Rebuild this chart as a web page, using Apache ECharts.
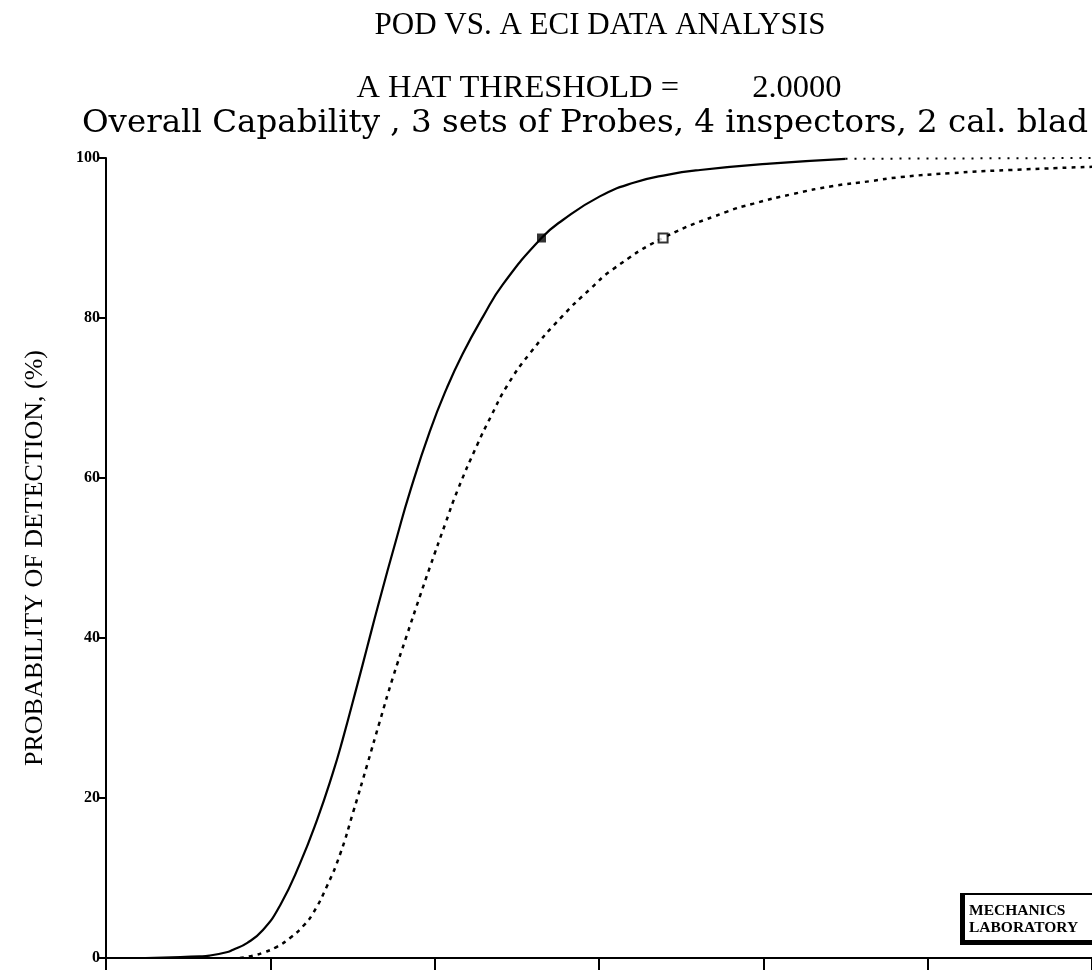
<!DOCTYPE html>
<html>
<head>
<meta charset="utf-8">
<script src="https://cdn.jsdelivr.net/npm/echarts@6/dist/echarts.min.js"></script>
<style>html,body{margin:0;padding:0;background:#fff}#c{width:1092px;height:970px}</style>
</head>
<body>
<div id="c"></div>
<script>
// POD fit curve (solid): [crack size, POD %]
const podFit = [
  [0.4,0],[2.4,0],[5.7,0.2],[6.3,0.3],[7.4,0.75],[7.7,1.0],[8.6,1.9],[9.55,3.5],
  [10.6,6.6],[11.8,11.8],[12.85,17.3],[13.8,23.1],[14.4,27.3],[15.3,34.2],
  [15.9,38.9],[16.55,44.0],[17.7,52.6],[18.5,58.3],[19.7,65.8],[20.75,71.3],
  [21.7,75.5],[22.95,80.2],[24.15,84.2],[26.5,90],[27.8,92.25],[30.05,95.2],
  [32.1,96.9],[34.15,97.9],[36.15,98.5],[40.4,99.3],[45,99.9]
];
// 95% confidence bound (dashed)
const podBound = [
  [8.15,0],[8.95,0.3],[9.55,0.65],[10.4,1.4],[11.2,2.5],[12.0,4.0],[12.6,5.6],
  [13.45,9.0],[14.25,13.0],[15.05,18.3],[15.9,24.2],[16.65,29.5],[17.45,35.0],
  [18.3,40.3],[19.1,45.2],[19.7,48.8],[20.65,54.3],[21.4,58.5],[22.6,64.2],
  [23.4,67.6],[24.4,71.5],[25.8,75.6],[27.8,80.3],[29.45,83.6],[30.85,86.1],
  [33.9,90],[37.8,93.3],[39.4,94.3],[41.8,95.5],[44.25,96.5],[46.5,97.1],
  [48.3,97.6],[51.35,98.1],[55,98.5],[60,98.9]
];
// extension of the fit beyond the plotted range
const podFitTail = [[45,99.9],[60,100]];
// a90 and a90/95 points
const a90 = [[26.5,90]];
const a9095 = [[33.9,90]];
const yTicks = [0,20,40,60,80,100];

const titleMain = 'POD VS. A ECI DATA ANALYSIS';
const titleThr = 'A HAT THRESHOLD =         2.0000';
const titleDesc = 'Overall Capability , 3 sets of Probes, 4 inspectors, 2 cal. blad';
const yName = 'PROBABILITY OF DETECTION, (%)';
const logoText = 'MECHANICS\nLABORATORY';

const serif = '"Liberation Serif", "DejaVu Serif", serif';
const wideSerif = '"DejaVu Serif", "Liberation Serif", serif';
const chart = echarts.init(document.getElementById('c'), null, {renderer:'canvas'});
chart.setOption({
  animation:false,
  backgroundColor:'#ffffff',
  title:[
    {text:titleMain,left:600,top:10,textAlign:'center',padding:0,
     textStyle:{fontFamily:serif,fontSize:31,fontWeight:'normal',color:'#000'}},
    {text:titleThr,left:599,top:72,textAlign:'center',padding:0,
     textStyle:{fontFamily:serif,fontSize:32.5,fontWeight:'normal',color:'#000'}},
    {text:titleDesc,left:585,top:107,textAlign:'center',padding:0,
     textStyle:{fontFamily:wideSerif,fontSize:32.5,fontWeight:'normal',color:'#000'}}
  ],
  grid:{left:106,right:0,top:158,bottom:12,containLabel:false},
  xAxis:{type:'value',min:0,max:60,interval:10,
    axisLine:{show:true,onZero:false,lineStyle:{color:'#000',width:2}},
    axisTick:{show:true,inside:false,length:12,lineStyle:{color:'#000',width:2}},
    axisLabel:{show:false},splitLine:{show:false}},
  yAxis:{type:'value',min:0,max:100,interval:20,
    name:yName,nameLocation:'middle',nameGap:58,nameRotate:90,
    nameTextStyle:{fontFamily:serif,fontSize:26,color:'#000'},
    axisLine:{show:true,onZero:false,lineStyle:{color:'#000',width:2}},
    axisTick:{show:true,length:8,lineStyle:{color:'#000',width:2}},
    axisLabel:{show:true,margin:6,fontFamily:serif,fontWeight:'bold',fontSize:16,color:'#000',
      formatter:v=>yTicks.indexOf(v)>=0?String(v):''},
    splitLine:{show:false}},
  series:[
    {name:'POD',type:'line',data:podFit,smooth:0.5,showSymbol:false,
     lineStyle:{color:'#000',width:2.2},z:3},
    {name:'POD tail',type:'line',data:podFitTail,showSymbol:false,
     lineStyle:{color:'#000',width:2,type:[2,7]},z:2},
    {name:'95% bound',type:'line',data:podBound,smooth:0.5,showSymbol:false,
     lineStyle:{color:'#000',width:2.5,type:[4,5]},z:2},
    {name:'a90',type:'scatter',data:a90,symbol:'rect',symbolSize:9,
     itemStyle:{color:'#000'},z:5},
    {name:'a90/95',type:'scatter',data:a9095,symbol:'rect',symbolSize:9,
     itemStyle:{color:'#fff',borderColor:'#000',borderWidth:2},z:5}
  ],
  graphic:[
    {type:'group',left:960,top:893,children:[
      {type:'rect',shape:{x:0,y:0,width:134,height:50},style:{fill:'#fff',stroke:'#000',lineWidth:2}},
      {type:'rect',shape:{x:0,y:0,width:4,height:50},style:{fill:'#000'}},
      {type:'rect',shape:{x:0,y:46,width:134,height:4},style:{fill:'#000'}},
      {type:'text',x:8,y:8,style:{text:logoText,fontFamily:serif,fontWeight:'bold',
        fontSize:15.5,lineHeight:17,fill:'#000'}}
    ]}
  ]
});
</script>
</body>
</html>
